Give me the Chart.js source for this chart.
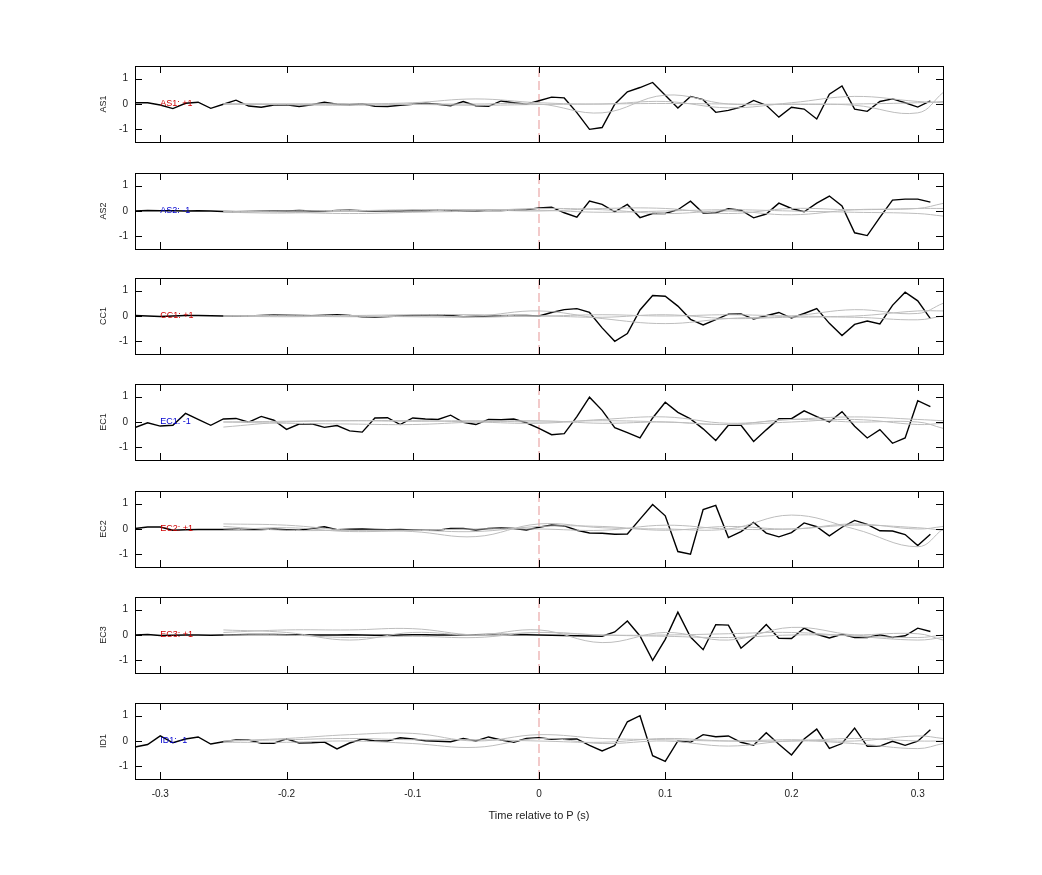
<!DOCTYPE html>
<html>
<head>
<meta charset="utf-8">
<script src="https://cdn.jsdelivr.net/npm/chart.js@4"></script>
<style>
  body { margin: 0; background: #fff; font-family: "Liberation Sans", Arial, sans-serif; }
  canvas { position: absolute; left: 0; }
</style>
</head>
<body>
<script>
// channel names, sign of each channel's label, panel tops
var channels = ['AS1', 'AS2', 'CC1', 'EC1', 'EC2', 'EC3', 'ID1'];
var signs = ['+1', '-1', '+1', '-1', '+1', '+1', '-1'];
var panelTops = [66, 173, 278, 384, 491, 597, 703];

// black trace sampled every 0.01 s from -0.32 to 0.31
var blackAS1 = [0.05,0.05,-0.04,-0.18,0.03,0.07,-0.17,-0.01, 0.15,-0.08,-0.13,-0.04,-0.03,-0.1,-0.03,0.07,
  -0.01,-0.03,0.01,-0.09,-0.1,-0.05,-0.01,0.03, -0.01,-0.07,0.1,-0.07,-0.09,0.12,0.05,-0.01,
  0.13,0.27,0.24,-0.34,-1.0,-0.93,-0.01,0.48, 0.65,0.85,0.35,-0.16,0.3,0.17,-0.33,-0.25,
  -0.12,0.14,-0.05,-0.52,-0.13,-0.2,-0.59,0.39, 0.71,-0.2,-0.29,0.1,0.2,0.05,-0.12,0.12];
var blackAS2 = [0,0.02,0.01,0.01,0,0.01,0,-0.02, -0.03,-0.02,-0.01,0,0,0.02,0,-0.01,
  0.02,0.03,0.01,0,0.01,0,0.02,0.01, 0.04,0.01,-0.01,0,0.03,0.02,0.04,0.05,
  0.12,0.15,-0.07,-0.24,0.39,0.26,-0.03,0.26, -0.26,-0.1,-0.1,0.05,0.39,-0.08,-0.07,0.09,
  0.03,-0.27,-0.12,0.31,0.1,-0.03,0.31,0.59, 0.2,-0.86,-0.97,-0.25,0.43,0.47,0.47,0.35];
var blackCC1 = [0.02,0,-0.02,0,0.02,0.02,0.01,0, -0.01,0,0.02,0.04,0.03,0.02,0.01,0.03,
  0.05,0.02,-0.03,-0.04,-0.02,0,0.02,0.03, 0.05,0.02,-0.03,-0.01,0,0.01,0.02,0.02,
  0,0.14,0.25,0.29,0.14,-0.47,-1.0,-0.69, 0.24,0.81,0.78,0.39,-0.13,-0.35,-0.14,0.07,
  0.08,-0.12,0.01,0.14,-0.08,0.1,0.29,-0.29, -0.77,-0.33,-0.2,-0.31,0.42,0.94,0.6,-0.1];
var blackEC1 = [-0.22,-0.03,-0.16,-0.13,0.34,0.1,-0.13,0.12, 0.14,-0.01,0.22,0.07,-0.29,-0.08,-0.07,-0.21,
  -0.14,-0.35,-0.4,0.16,0.17,-0.1,0.16,0.12, 0.1,0.27,-0.01,-0.1,0.1,0.09,0.12,-0.03,
  -0.25,-0.5,-0.46,0.21,0.98,0.46,-0.22,-0.42, -0.63,0.16,0.78,0.38,0.12,-0.27,-0.73,-0.13,
  -0.13,-0.77,-0.31,0.13,0.13,0.44,0.21,0, 0.41,-0.17,-0.63,-0.3,-0.84,-0.63,0.84,0.61];
var blackEC2 = [0.02,0.08,0.08,-0.05,-0.03,-0.02,-0.02,-0.02, -0.01,-0.02,-0.02,0,-0.03,-0.05,0.02,0.09,
  -0.03,-0.01,0,-0.02,-0.03,-0.02,-0.04,-0.05, -0.05,0.02,0.02,-0.04,0.02,0.04,0.02,-0.04,
  0.07,0.16,0.12,-0.05,-0.16,-0.17,-0.21,-0.2, 0.39,0.97,0.52,-0.89,-0.99,0.77,0.93,-0.34,
  -0.1,0.26,-0.16,-0.31,-0.14,0.24,0.09,-0.27, 0.07,0.34,0.18,-0.07,-0.08,-0.22,-0.65,-0.21];
var blackEC3 = [0,0.02,-0.02,-0.01,0,0,-0.01,0, 0.01,0.02,0.02,0.02,0.01,0.01,0,0,
  0,0.01,0,-0.01,-0.01,0,0.01,0.01, 0,0,0.01,0.01,0.02,0.02,0.01,0.01,
  0,-0.01,-0.02,-0.03,-0.04,-0.05,0.12,0.55, -0.04,-1.0,-0.17,0.9,-0.08,-0.58,0.41,0.39,
  -0.52,-0.1,0.41,-0.13,-0.14,0.27,0.03,-0.12, 0.03,-0.1,-0.1,0.01,-0.1,-0.03,0.27,0.14];
var blackID1 = [-0.24,-0.14,0.2,-0.07,0.08,0.16,-0.12,-0.03, 0.04,0.04,-0.09,-0.09,0.09,-0.08,-0.07,-0.04,
  -0.31,-0.08,0.08,0,0,0.13,0.08,0.01, -0.01,-0.03,0.1,0,0.16,0.04,-0.05,0.1,
  0.13,0.07,0.07,0.08,-0.17,-0.39,-0.18,0.76, 1.0,-0.58,-0.8,0,-0.05,0.25,0.17,0.2,
  -0.05,-0.17,0.33,-0.13,-0.55,0.08,0.47,-0.29, -0.1,0.51,-0.21,-0.2,-0.01,-0.17,-0.01,0.44];
var blackSeries = [blackAS1, blackAS2, blackCC1, blackEC1, blackEC2, blackEC3, blackID1];

// grey traces sampled at these times
var greyTimes = [-0.25,-0.2,-0.15,-0.1,-0.05,0,0.05,0.1,0.15,0.2,0.25,0.3,0.32];
var greyAS1 = [[0,0,0,0,0,0,-0.35,0.35,0,0,-0.05,-0.35,0.45],
  [0,0,0,0.05,0.2,0.05,0,0.1,-0.15,0.05,0.3,0.1,0.05],
  [0,-0.03,-0.05,-0.02,-0.05,-0.02,0,0.02,0,-0.02,0,0.05,0.1]];
var greyAS2 = [[0,-0.05,-0.1,-0.05,0,0.1,0.05,-0.1,0,-0.15,0.05,0.1,0.3],
  [-0.05,-0.08,0,0.05,0.05,0,0.1,0.1,-0.1,0.1,0.05,0.1,0.1],
  [-0.02,0,0.02,0,0.05,0.03,-0.05,0,0.05,0,-0.05,-0.1,-0.2]];
var greyCC1 = [[0,0,-0.03,0,0,0.2,-0.1,-0.3,-0.1,0,0.25,0.1,0.5],
  [0,0.03,0.02,0.05,0.05,0,0.05,0,0.05,0,0,0.2,0.2],
  [0,-0.03,0,-0.03,-0.05,0,-0.05,0.05,-0.1,-0.05,-0.05,-0.15,0]];
var greyEC1 = [[-0.2,0,0.05,0.05,0,-0.05,0.1,0.2,-0.05,0.1,0.2,0.1,0.05],
  [0,-0.05,-0.08,-0.1,0,0.05,-0.05,0,-0.1,0.1,0,0,-0.25],
  [0,0.03,0.05,0.03,0.05,0,0.05,0,-0.1,0,0.1,-0.1,-0.05]];
var greyEC2 = [[0.2,0.15,-0.05,-0.1,-0.3,0.2,0.05,0,0,0.55,0,-0.7,0],
  [0.1,-0.05,-0.05,-0.05,-0.1,0.1,0.1,-0.05,0.1,0,0.2,0,0.1],
  [-0.05,0.05,-0.1,-0.05,0,0,-0.05,0.15,0,0,0.15,0.05,-0.05]];
var greyEC3 = [[0.2,0.1,-0.2,0.1,0,0.2,-0.3,0.1,-0.2,0.3,0,-0.1,0],
  [0.1,0.2,0.2,0.25,0,0.1,0,0,0.05,0.1,-0.05,-0.2,-0.1],
  [0,0,-0.1,-0.05,-0.1,0.1,0,-0.05,-0.1,0,0,0.05,-0.2]];
var greyID1 = [[0,0.1,0.25,0.3,0,0.25,0.1,0.05,0,0.05,0,0.2,0.1],
  [-0.05,-0.05,0,-0.1,-0.25,0.1,-0.1,0,-0.2,0,-0.1,-0.3,-0.1],
  [0,0.05,0.1,0.05,0.05,0,-0.05,0.1,0,0,0.1,0,0]];
var greySeries = [greyAS1, greyAS2, greyCC1, greyEC1, greyEC2, greyEC3, greyID1];

var xTicks = [-0.3, -0.2, -0.1, 0, 0.1, 0.2, 0.3];
var yTicks = [-1, 0, 1];
var FONT = '"Liberation Sans", Arial, sans-serif';

// box, inward ticks, tick labels, titles and the channel label
var frame = {
  id: 'frame',
  afterDraw: function (chart) {
    var ctx = chart.ctx, a = chart.chartArea;
    var xs = chart.scales.x, ys = chart.scales.y;
    var o = chart.options.plugins.frame;
    ctx.save();
    ctx.strokeStyle = '#000';
    ctx.lineWidth = 1;
    ctx.strokeRect(Math.round(a.left) + 0.5, Math.round(a.top) + 0.5, Math.round(a.width), Math.round(a.height));
    ctx.beginPath();
    xTicks.forEach(function (t) {
      var px = Math.round(xs.getPixelForValue(t)) + 0.5;
      ctx.moveTo(px, a.top); ctx.lineTo(px, a.top + 7);
      ctx.moveTo(px, a.bottom); ctx.lineTo(px, a.bottom - 7);
    });
    yTicks.forEach(function (t) {
      var py = Math.round(ys.getPixelForValue(t)) + 0.5;
      ctx.moveTo(a.left, py); ctx.lineTo(a.left + 7, py);
      ctx.moveTo(a.right, py); ctx.lineTo(a.right - 7, py);
    });
    ctx.stroke();

    ctx.fillStyle = '#222';
    ctx.font = '10px ' + FONT;
    ctx.textAlign = 'right';
    ctx.textBaseline = 'middle';
    yTicks.forEach(function (t) { ctx.fillText(String(t), a.left - 7, ys.getPixelForValue(t)); });

    ctx.save();
    ctx.translate(104, (a.top + a.bottom) / 2);
    ctx.rotate(-Math.PI / 2);
    ctx.textAlign = 'center';
    ctx.font = '9px ' + FONT;
    ctx.fillText(o.name, 0, 0);
    ctx.restore();

    if (o.last) {
      ctx.textAlign = 'center';
      ctx.textBaseline = 'top';
      ctx.font = '10px ' + FONT;
      xTicks.forEach(function (t) {
        ctx.fillText(String(t), xs.getPixelForValue(t), a.bottom + 10);
      });
      ctx.font = '11px ' + FONT;
      ctx.fillText('Time relative to P (s)', (a.left + a.right) / 2, a.bottom + 31);
    }

    ctx.font = '9px ' + FONT;
    ctx.fillStyle = o.color;
    ctx.textAlign = 'left';
    ctx.textBaseline = 'middle';
    ctx.fillText(o.text, xs.getPixelForValue(-0.3), ys.getPixelForValue(0));
    ctx.restore();
  }
};

channels.forEach(function (name, k) {
  var last = k === channels.length - 1;
  var extra = last ? 60 : 0;
  var cv = document.createElement('canvas');
  cv.width = 1042;
  cv.height = 76 + 10 + extra;
  cv.style.top = (panelTops[k] - 5) + 'px';
  document.body.appendChild(cv);

  var datasets = [];
  greySeries[k].forEach(function (g) {
    datasets.push({
      data: g.map(function (v, i) { return { x: greyTimes[i], y: v }; }),
      borderColor: '#bdbdbd', borderWidth: 1, pointRadius: 0, tension: 0.4
    });
  });
  datasets.push({
    data: blackSeries[k].map(function (v, i) { return { x: -0.32 + i * 0.01, y: v }; }),
    borderColor: '#000', borderWidth: 1.4, pointRadius: 0, tension: 0
  });
  datasets.push({
    data: [{ x: 0, y: -1.5 }, { x: 0, y: 1.5 }],
    borderColor: 'rgba(215,90,90,0.8)', borderWidth: 0.8, borderDash: [9, 4], pointRadius: 0
  });

  new Chart(cv.getContext('2d'), {
    type: 'line',
    data: { datasets: datasets },
    options: {
      responsive: false,
      animation: false,
      devicePixelRatio: 1,
      layout: { padding: { top: 5, bottom: 5 + extra, right: 99, left: 135 } },
      plugins: {
        legend: { display: false },
        tooltip: { enabled: false },
        frame: {
          name: name, last: last,
          text: name + ': ' + signs[k],
          color: signs[k] === '+1' ? '#d00000' : '#0000d0'
        }
      },
      scales: {
        x: { type: 'linear', min: -0.32, max: 0.32, display: false },
        y: { min: -1.5, max: 1.5, display: false }
      }
    },
    plugins: [frame]
  });
});
</script>
</body>
</html>
